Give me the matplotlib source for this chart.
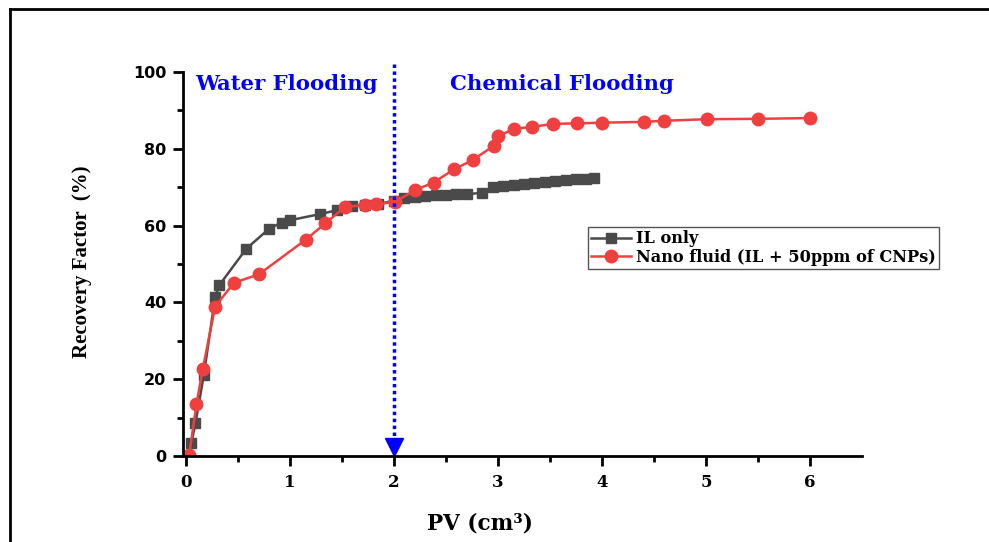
import numpy as np
import matplotlib
matplotlib.use('Agg')
import matplotlib.pyplot as plt
from matplotlib.lines import Line2D

# IL only
il_pv = [0.05, 0.09, 0.17, 0.28, 0.32, 0.58, 0.80, 0.92, 1.00, 1.29, 1.45, 1.60, 1.72, 1.85,
         2.00, 2.10, 2.20, 2.30, 2.40, 2.50, 2.60, 2.70, 2.85, 2.95, 3.05, 3.15, 3.25, 3.35,
         3.45, 3.55, 3.65, 3.75, 3.85, 3.92]
il_rf = [3.3, 8.5, 21, 41.5, 44.5, 54, 59.2, 60.8, 61.4, 63, 64, 65, 65.3, 65.6,
         66.5, 67.2, 67.5, 67.7, 67.9, 68, 68.1, 68.2, 68.5, 70, 70.2, 70.5, 70.8, 71,
         71.3, 71.6, 71.8, 72, 72.1, 72.3]

# Nano fluid (IL + 50ppm of CNPs)
nf_pv = [0.03, 0.10, 0.16, 0.28, 0.46, 0.70, 1.15, 1.34, 1.53, 1.72, 1.83, 2.01, 2.20,
         2.38, 2.58, 2.76, 2.96, 3.00, 3.15, 3.33, 3.53, 3.76, 4.00, 4.40, 4.60, 5.01,
         5.50, 6.00]
nf_rf = [0.3, 13.5, 22.6, 38.9, 45.1, 47.3, 56.3, 60.6, 64.9, 65.3, 65.5, 66.2, 69.2,
         71.2, 74.7, 77.1, 80.8, 83.2, 85.2, 85.7, 86.5, 86.6, 86.8, 87.0, 87.3, 87.7,
         87.8, 88.0]

plt.rcParams['font.family'] = 'DejaVu Serif'
plt.rcParams['font.weight'] = 'bold'

fig = plt.figure(figsize=(9.89, 5.42), dpi=100)
ax = fig.add_axes([0.185, 0.1587, 0.6865, 0.7085])

ax.plot(il_pv, il_rf, color='#4a4a4a', marker='s', markersize=7.5, linewidth=1.8,
        label='IL only')
ax.plot(nf_pv, nf_rf, color='#ef4040', marker='o', markersize=9, linewidth=1.8,
        label='Nano fluid (IL + 50ppm of CNPs)')

# flooding boundary
ax.plot([2, 2], [102, 3], color='#0000ff', linestyle=(0, (1, 1)), linewidth=2.5,
        clip_on=False)
ax.plot([2], [2.4], marker='v', color='#0000ff', markersize=13, clip_on=False)

ax.text(0.09, 96.8, 'Water Flooding', color='#0000ff', fontsize=15.3, fontweight='bold',
        va='center')
ax.text(2.54, 96.8, 'Chemical Flooding', color='#0000ff', fontsize=15.3, fontweight='bold',
        va='center')

ax.set_xlim(-0.03, 6.5)
ax.set_ylim(0, 100)
ax.set_xticks([0, 1, 2, 3, 4, 5, 6])
ax.set_xticks(np.arange(0.5, 6.5, 1), minor=True)
ax.set_yticks([0, 20, 40, 60, 80, 100])
ax.set_yticks(np.arange(10, 100, 20), minor=True)
ax.spines['top'].set_visible(False)
ax.spines['right'].set_visible(False)
for s in ['left', 'bottom']:
    ax.spines[s].set_linewidth(2)
ax.tick_params(which='major', direction='out', length=7, width=2)
ax.tick_params(which='minor', direction='out', length=4, width=2)
ax.tick_params(axis='x', labelsize=12, pad=6)
ax.tick_params(axis='y', labelsize=11.5, pad=5)
for lab in ax.get_xticklabels():
    lab.set_fontweight('bold')
for lab in ax.get_yticklabels():
    lab.set_fontweight('bold')
    lab.set_family('DejaVu Sans')

ax.set_xlabel('PV (cm³)', fontsize=15.5, fontweight='bold')
ax.xaxis.set_label_coords(0.437, -0.146)
ax.set_ylabel('Recovery Factor  (%)', fontsize=15, fontweight='bold',
              family='Liberation Serif')
ax.yaxis.set_label_coords(-0.134, 0.505)

leg = ax.legend(loc='upper left', bbox_to_anchor=(0.596, 0.596), fancybox=False,
                framealpha=1, edgecolor='#555555', prop={'weight': 'bold', 'size': 11.6},
                borderpad=0.2, labelspacing=0.1, handlelength=2.5, handletextpad=0.3,
                borderaxespad=0)
leg.get_frame().set_linewidth(1)

# outer frame
fig.add_artist(Line2D([10 / 989, 10 / 989], [0, 1 - 9 / 542], color='black', linewidth=2))
fig.add_artist(Line2D([10 / 989, 988 / 989], [1 - 9 / 542, 1 - 9 / 542], color='black',
                      linewidth=2))

fig.savefig('out.png', dpi=100)
